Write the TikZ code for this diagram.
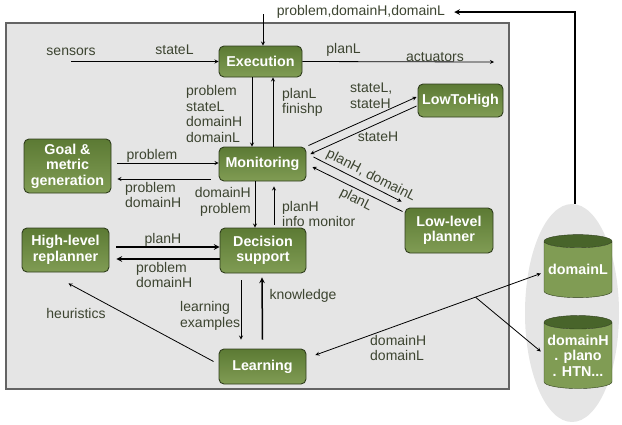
\documentclass[tikz,border=0pt]{standalone}
\usepackage{fontspec}
\setmainfont{Liberation Sans}
\usetikzlibrary{positioning,shapes.geometric,calc}

\definecolor{panelgray}{RGB}{229,229,229}
\definecolor{panelline}{RGB}{100,100,100}
\definecolor{boxtop}{RGB}{92,122,52}
\definecolor{boxbot}{RGB}{128,156,84}
\definecolor{boxline}{RGB}{48,62,30}
\definecolor{lbltext}{RGB}{60,68,48}
\definecolor{cyltop}{RGB}{72,100,42}

\tikzset{
  box/.style={draw=boxline, line width=0.9pt, rounded corners=5pt,
    top color=boxtop, bottom color=boxbot, text=white, align=center,
    font=\bfseries\fontsize{14.3}{15.5}\selectfont, inner sep=0pt},
  store/.style={cylinder, shape border rotate=90, aspect=0.22, draw=boxline,
    cylinder uses custom fill, cylinder body fill=boxbot, cylinder end fill=cyltop,
    text=white, align=center, font=\bfseries\fontsize{14.3}{15.5}\selectfont, inner sep=0pt},
  lbl/.style={text=lbltext, font=\fontsize{14}{15.5}\selectfont, inner sep=0pt},
  wire/.style={->, line width=0.8pt},
  fatwire/.style={->, line width=1.5pt}
}

\begin{document}
\begin{tikzpicture}[>=stealth, x=1pt, y=-1pt]
  \useasboundingbox (0,0) rectangle (622,424);
  % panel and store
  \draw[fill=panelgray, draw=panelline, line width=1.2pt] (6,23) rectangle (509,389);
  \node[ellipse, fill=panelgray, minimum width=94pt, minimum height=218pt, inner sep=0pt] (bank) at (572,313) {};

  % boxes
  \node[box, minimum width=83pt, minimum height=31pt] (exec) at (260.5,61.5) {Execution};
  \node[box, minimum width=85pt, minimum height=33pt] (l2h) at (460.5,100.5) {LowToHigh};
  \node[box, minimum width=87pt, minimum height=34pt] (mon) at (262.5,164) {Monitoring};
  \node[box, minimum width=87pt, minimum height=54pt] (goal) at (67.5,166) {Goal \&\\metric\\generation};
  \node[box, minimum width=86pt, minimum height=45pt] (dec) at (263,250.5) {Decision\\support};
  \node[box, minimum width=87pt, minimum height=44pt] (hlr) at (65.5,250) {High-level\\replanner};
  \node[box, minimum width=88pt, minimum height=45pt] (llp) at (449,230.5) {Low-level\\planner};
  \node[box, minimum width=87pt, minimum height=35pt] (learn) at (262.5,366.5) {Learning};
  \node[store, minimum width=68pt, minimum height=63pt] (domL) at (578,269.5) {domainL};
  \node[store, minimum width=68pt, minimum height=73pt] (domH) at (578,355.5) {domainH\\. plano\\. HTN...};

  % labels
  \node[lbl] (ptxt) at (361,12) {problem,domainH,domainL};
  \node[lbl] (sensors) at (71,52) {sensors};
  \node[lbl] at (174.5,50) {stateL};
  \node[lbl] at (343.5,50) {planL};
  \node[lbl] (act) at (435,57) {actuators};
  \node[lbl, anchor=west, align=left] at (186,114) {problem\\stateL\\domainH\\domainL};
  \node[lbl, anchor=west, align=left] at (282,102.5) {planL\\finishp};
  \node[lbl, anchor=west, align=left] at (350,95.5) {stateL,\\stateH};
  \node[lbl] at (378,137) {stateH};
  \node[lbl, rotate=-27] at (371,176) {planH, domainL};
  \node[lbl, rotate=-27] at (356,200) {planL};
  \node[lbl] at (152,156) {problem};
  \node[lbl, anchor=west, align=left] at (125,195) {problem\\domainH};
  \node[lbl, anchor=east, align=right] at (251,202) {domainH\\problem};
  \node[lbl, anchor=west, align=left] at (282,214) {planH\\info monitor};
  \node[lbl] at (163,240) {planH};
  \node[lbl, anchor=west, align=left] at (136,275) {problem\\domainH};
  \node[lbl] at (76,313) {heuristics};
  \node[lbl, anchor=west, align=left] at (180,316) {learning\\examples};
  \node[lbl] at (303,296) {knowledge};
  \node[lbl, anchor=west, align=left] at (370,348) {domainH\\domainL};

  \coordinate (ptin) at (263,14);
  \coordinate (actout) at (494,62);

  % connectors
  \draw[fatwire] ($(bank.north)+(3,0)$) |- ($(ptxt.east)+(9,0)$);
  \draw[wire] (ptin) -- (ptin |- exec.north);
  \draw[wire] (sensors.south |- exec.west) -- (exec.west);
  \draw[wire] (exec.east) -- (actout);
  \draw[wire] ($(exec.south)+(-8.5,0)$) -- ($(mon.north)+(-10.5,0)$);
  \draw[wire] ($(mon.north)+(10.5,0)$) -- ($(exec.south)+(12.5,0)$);
  \draw[wire] ($(mon.north east)+(2,-1)$) -- ($(l2h.west)+(-1,-3.5)$);
  \draw[wire] ($(l2h.west)+(-1,5.5)$) -- ($(mon.east)+(4,-10)$);
  \draw[wire] ($(mon.east)+(7,-7)$) -- ($(llp.north west)+(-3,-6)$);
  \draw[wire] ($(llp.north west)+(-2,4)$) -- ($(mon.east)+(6,3)$);
  \draw[wire] ($(goal.east)+(6,-3)$) -- ($(mon.west)+(0,-1)$);
  \draw[wire] ($(mon.west)+(-8,15)$) -- ($(goal.east)+(6,13)$);
  \draw[wire] ($(mon.south)+(-7.5,0)$) -- ($(dec.north)+(-8,0)$);
  \draw[wire] ($(dec.north)+(11,-3)$) -- ($(mon.south)+(11.5,5)$);
  \draw[fatwire] ($(hlr.east)+(7,-3)$) -- ($(dec.west)+(0,-3.5)$);
  \draw[fatwire] ($(dec.west)+(0,8.5)$) -- ($(hlr.east)+(7,9)$);
  \draw[wire] ($(dec.south)+(-22,7)$) -- ($(learn.north)+(-21.5,-9)$);
  \draw[fatwire] ($(learn.north)+(0,-9)$) -- ($(dec.south)+(-1,4)$);
  \draw[wire] ($(learn.west)+(-5,-5)$) -- ($(hlr.south)+(3,11)$);
  \draw[wire, <->] ($(learn.east)+(9,-11.5)$) -- coordinate[pos=0.71] (fork) ($(domL.west)+(-3,4)$);
  \draw[wire] (fork) -- ($(domH.west)+(-3,-4)$);
\end{tikzpicture}
\end{document}
